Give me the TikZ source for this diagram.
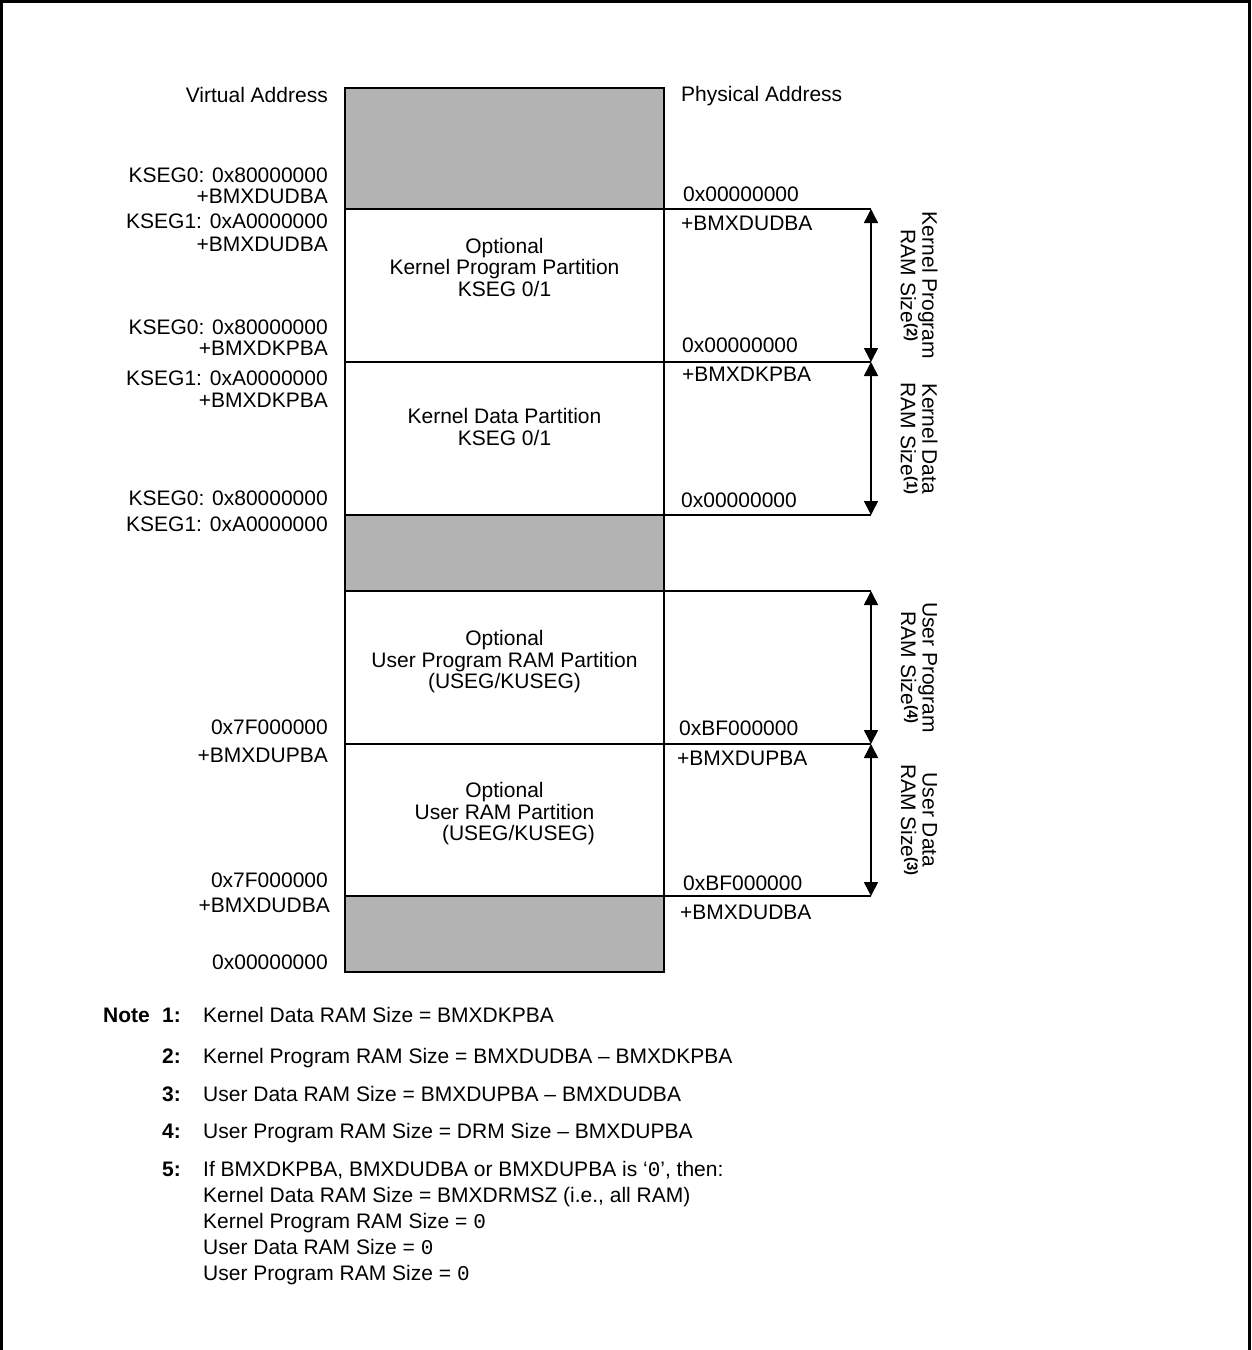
\documentclass[tikz,border=0pt]{standalone}
\usepackage{fontspec}
\setmainfont{Liberation Sans}
\newfontfamily\monofont{Liberation Mono}
\usetikzlibrary{arrows.meta}
\newcommand\figfont{\fontsize{21}{21.5}\selectfont}
\newcommand\supnum[1]{\raisebox{6pt}{\fontsize{15}{15}\selectfont\bfseries (#1)}}
\definecolor{shade}{RGB}{179,179,179}
\begin{document}
\begin{tikzpicture}[x=1pt,y=-1pt,
  part/.style={draw=black, line width=2.5pt, minimum width=319pt, inner sep=0pt, outer sep=0pt},
  shaded/.style={part, fill=shade},
  boxtext/.style={font=\figfont, align=center, inner sep=0pt},
  lbl/.style={font=\figfont, inner sep=0pt, anchor=east},
  rlbl/.style={font=\figfont, inner sep=0pt, anchor=west},
  extline/.style={line width=2pt},
  dimarrow/.style={line width=1.6pt, {Triangle[width=14pt,length=14pt]}-{Triangle[width=14pt,length=14pt]}},
  sidelbl/.style={font=\figfont, rotate=-90, align=center, inner sep=0pt},
  notenum/.style={font=\figfont\bfseries, inner sep=0pt, anchor=base east},
  notetext/.style={font=\figfont, inner sep=0pt, anchor=base west}
]
\useasboundingbox (0,0) rectangle (1251,1350);
% outer frame
\draw[line width=3pt] (1.5,1350) -- (1.5,1.5) -- (1249.5,1.5) -- (1249.5,1350);

% memory map partitions
\node[shaded, minimum height=121pt] (g1) at (504.5,148.5) {};
\node[part,   minimum height=153pt] (kp) at (504.5,285.5) {};
\node[part,   minimum height=153pt] (kd) at (504.5,438.5) {};
\node[shaded, minimum height=76pt]  (g2) at (504.5,553) {};
\node[part,   minimum height=153pt] (up) at (504.5,667.5) {};
\node[part,   minimum height=152pt] (ur) at (504.5,820) {};
\node[shaded, minimum height=76pt]  (g3) at (504.5,934) {};

% partition texts
\node[boxtext] (kpt) at (504.5,267) {Optional\\Kernel Program Partition\\KSEG 0/1};
\node[boxtext] (kdt) at (504.5,427) {Kernel Data Partition\\KSEG 0/1};
\node[boxtext] (upt) at (504.5,662) {Optional\\User Program RAM Partition\\(USEG/KUSEG)};
\node[boxtext] (urt) at (504.5,814) {Optional\\User RAM Partition\\\hspace*{28pt}(USEG/KUSEG)};

% extension lines and dimension arrows
\coordinate (e1) at (871,209);
\coordinate (e2) at (871,362);
\coordinate (e3) at (871,515);
\coordinate (e4) at (871,591);
\coordinate (e5) at (871,744);
\coordinate (e6) at (871,896);
\draw[extline] (kp.north east) -- (e1);
\draw[extline] (kd.north east) -- (e2);
\draw[extline] (kd.south east) -- (e3);
\draw[extline] (up.north east) -- (e4);
\draw[extline] (ur.north east) -- (e5);
\draw[extline] (ur.south east) -- (e6);
\draw[dimarrow] (e1) -- (e2);
\draw[dimarrow] (e2) -- (e3);
\draw[dimarrow] (e4) -- (e5);
\draw[dimarrow] (e5) -- (e6);

\node[sidelbl] (s1) at (919,285.5) {Kernel Program\\RAM Size\supnum{2}};
\node[sidelbl] (s2) at (919,438.5) {Kernel Data\\RAM Size\supnum{1}};
\node[sidelbl] (s3) at (919,667.5) {User Program\\RAM Size\supnum{4}};
\node[sidelbl] (s4) at (919,820) {User Data\\RAM Size\supnum{3}};

% virtual addresses
\node[lbl] (va)  at (328,95)  {Virtual Address};
\node[lbl] (v1)  at (328,175) {KSEG0: 0x80000000};
\node[lbl] (v2)  at (328,196) {+BMXDUDBA};
\node[lbl] (v3)  at (328,221) {KSEG1: 0xA0000000};
\node[lbl] (v4)  at (328,244) {+BMXDUDBA};
\node[lbl] (v5)  at (328,327) {KSEG0: 0x80000000};
\node[lbl] (v6)  at (328,348) {+BMXDKPBA};
\node[lbl] (v7)  at (328,378) {KSEG1: 0xA0000000};
\node[lbl] (v8)  at (328,400) {+BMXDKPBA};
\node[lbl] (v9)  at (328,498) {KSEG0: 0x80000000};
\node[lbl] (v10) at (328,524) {KSEG1: 0xA0000000};
\node[lbl] (v11) at (328,727) {0x7F000000};
\node[lbl] (v12) at (328,755) {+BMXDUPBA};
\node[lbl] (v13) at (328,880) {0x7F000000};
\node[lbl] (v14) at (330,905) {+BMXDUDBA};
\node[lbl] (v15) at (328,962) {0x00000000};

% physical addresses
\node[rlbl] (pa)  at (681,96)  {Physical Address};
\node[rlbl] (p1)  at (683,194) {0x00000000};
\node[rlbl] (p2)  at (681,223) {+BMXDUDBA};
\node[rlbl] (p3)  at (682,345) {0x00000000};
\node[rlbl] (p4)  at (682,374) {+BMXDKPBA};
\node[rlbl] (p5)  at (681,500) {0x00000000};
\node[rlbl] (p6)  at (679,728) {0xBF000000};
\node[rlbl] (p7)  at (677,758) {+BMXDUPBA};
\node[rlbl] (p8)  at (683,883) {0xBF000000};
\node[rlbl] (p9)  at (680,912) {+BMXDUDBA};

% notes
\node[font=\figfont\bfseries, inner sep=0pt, anchor=base west] (nh) at (103,1022) {Note};
\node[notenum] (n1) at (181,1022) {1:};
\node[notenum] (n2) at (181,1063) {2:};
\node[notenum] (n3) at (181,1101) {3:};
\node[notenum] (n4) at (181,1138) {4:};
\node[notenum] (n5) at (181,1176) {5:};
\node[notetext] (t1) at (203,1022) {Kernel Data RAM Size = BMXDKPBA};
\node[notetext] (t2) at (203,1063) {Kernel Program RAM Size = BMXDUDBA -- BMXDKPBA};
\node[notetext] (t3) at (203,1101) {User Data RAM Size = BMXDUPBA -- BMXDUDBA};
\node[notetext] (t4) at (203,1138) {User Program RAM Size = DRM Size -- BMXDUPBA};
\node[notetext] (t5) at (203,1176) {If BMXDKPBA, BMXDUDBA or BMXDUPBA is `{\monofont 0}', then:};
\node[notetext] (t6) at (203,1202) {Kernel Data RAM Size = BMXDRMSZ (i.e., all RAM)};
\node[notetext] (t7) at (203,1228) {Kernel Program RAM Size = {\monofont 0}};
\node[notetext] (t8) at (203,1254) {User Data RAM Size = {\monofont 0}};
\node[notetext] (t9) at (203,1280) {User Program RAM Size = {\monofont 0}};
\end{tikzpicture}
\end{document}
